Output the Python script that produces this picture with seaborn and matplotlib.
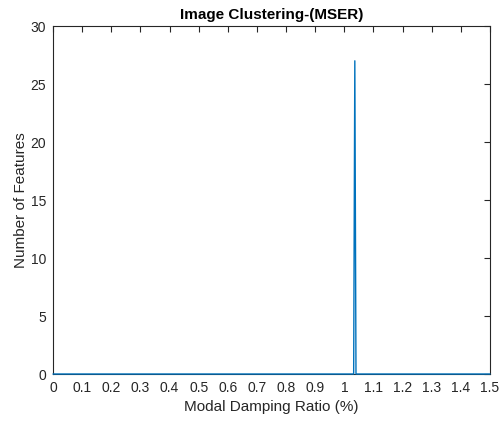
import matplotlib
matplotlib.use("Agg")
import matplotlib.pyplot as plt
import seaborn as sns
import pandas as pd
import numpy as np

damping = [0.0, 1.032, 1.036, 1.040, 1.5]
features = [0, 0, 27, 0, 0]
xticks = [0, 0.1, 0.2, 0.3, 0.4, 0.5, 0.6, 0.7, 0.8, 0.9, 1, 1.1, 1.2, 1.3, 1.4, 1.5]
xticklabels = ["0", "0.1", "0.2", "0.3", "0.4", "0.5", "0.6", "0.7", "0.8", "0.9", "1",
               "1.1", "1.2", "1.3", "1.4", "1.5"]
yticks = [0, 5, 10, 15, 20, 25, 30]

sns.set_style("white")
plt.rcParams['font.family'] = ['Liberation Sans', 'DejaVu Sans']

df = pd.DataFrame({"x": damping, "y": features})

fig = plt.figure(figsize=(4.99, 4.21), dpi=100)
ax = fig.add_axes([53/499, 1 - 374/421, (490 - 53)/499, (374 - 26)/421])
sns.lineplot(data=df, x="x", y="y", ax=ax, color="#0072BD", linewidth=1.0,
             estimator=None, sort=False)
for ln in ax.lines:
    ln.set_zorder(5)
    ln.set_clip_on(False)

ax.set_xlim(0, 1.5)
ax.set_ylim(0, 30)
ax.set_xticks(xticks)
ax.set_xticklabels(xticklabels)
ax.set_yticks(yticks)
edge = "#262626"
for s in ax.spines.values():
    s.set_color(edge)
    s.set_linewidth(0.8)
    s.set_zorder(2)
ax.tick_params(direction="in", top=True, right=True, length=4, width=0.8,
               colors=edge, labelsize=10, labelcolor=edge, pad=5)
ax.set_xlabel("Modal Damping Ratio (%)", fontsize=11, color=edge)
ax.set_ylabel("Number of Features", fontsize=11, color=edge, labelpad=2)
ax.set_title("Image Clustering-(MSER)", fontsize=11, fontweight="bold", color="black", pad=5)

fig.savefig("out.png", dpi=100)
